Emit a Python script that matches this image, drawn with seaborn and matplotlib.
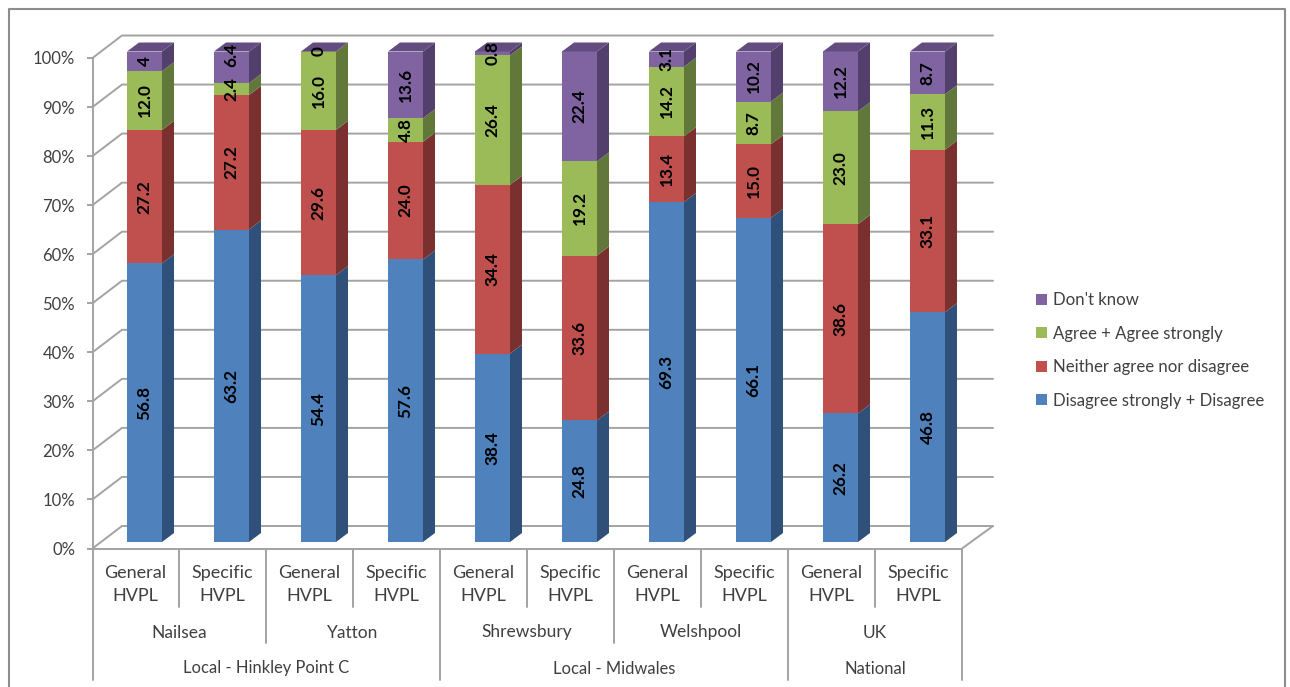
import numpy as np
import pandas as pd
import seaborn as sns
import matplotlib.pyplot as plt

# data
bar_ids = ['Nailsea G', 'Nailsea S', 'Yatton G', 'Yatton S', 'Shrewsbury G',
           'Shrewsbury S', 'Welshpool G', 'Welshpool S', 'UK G', 'UK S']
bar_labels = ['General\nHVPL', 'Specific\nHVPL'] * 5
towns = ['Nailsea', 'Yatton', 'Shrewsbury', 'Welshpool', 'UK']
regions = ['Local - Hinkley Point C', 'Local - Midwales', 'National']
region_spans = [(0, 4), (4, 8), (8, 10)]
y_ticks = [0, 10, 20, 30, 40, 50, 60, 70, 80, 90, 100]

disagree = [56.8, 63.2, 54.4, 57.6, 38.4, 24.8, 69.3, 66.1, 26.2, 46.8]
neither = [27.2, 27.2, 29.6, 24.0, 34.4, 33.6, 13.4, 15.0, 38.6, 33.1]
agree = [12.0, 2.4, 16.0, 4.8, 26.4, 19.2, 14.2, 8.7, 23.0, 11.3]
dont_know = [4, 6.4, 0, 13.6, 0.8, 22.4, 3.1, 10.2, 12.2, 8.7]

series_names = ['Disagree strongly + Disagree', 'Neither agree nor disagree',
                'Agree + Agree strongly', "Don't know"]
series_values = [disagree, neither, agree, dont_know]
face_colors = ['#4F81BD', '#C0504D', '#9BBB59', '#8064A2']
side_colors = ['#2F5079', '#7A302E', '#62773A', '#523F6B']
top_color = '#624C80'

GRID = '#A3A3A3'
TEXT = '#404040'

# picture pixels -> data units (bar 0 centred on x=0, bar foot at y=0)
PX_X = 87.0
PX_Y = 4.905
def dx(p):
    return (p - 144.5) / PX_X
def dy(p):
    return (542 - p) / PX_Y

sns.set_theme(style='white')
plt.rcParams['font.family'] = ['Lato', 'DejaVu Sans']

fig = plt.figure(figsize=(12.9, 6.87), dpi=100)
ax = fig.add_axes([0, 0, 1, 1])

df = pd.DataFrame(series_values, index=series_names, columns=bar_ids).T
share = df.div(df.sum(axis=1), axis=0) * 100

bar_w = 35 / PX_X
depth_x = 12 / PX_X
depth_y = 9 / PX_Y

bottoms = np.zeros(len(bar_ids))
for i, name in enumerate(series_names):
    heights = share[name].values
    sns.barplot(x=bar_ids, y=heights, bottom=bottoms, color=face_colors[i],
                saturation=1, width=bar_w, linewidth=0, errorbar=None,
                label=name, legend=False, zorder=3, ax=ax)
    for j in range(len(bar_ids)):
        left = j - bar_w / 2
        right = j + bar_w / 2
        lo = bottoms[j]
        hi = bottoms[j] + heights[j]
        ax.fill([right, right + depth_x, right + depth_x, right],
                [lo, lo + depth_y, hi + depth_y, hi],
                color=side_colors[i], lw=0, zorder=3)
        if i == 3:
            ax.fill([left, left + depth_x, right + depth_x, right],
                    [hi, hi + depth_y, hi + depth_y, hi],
                    color=top_color, lw=0, zorder=3)
        # value labels, the 6.4 was dragged up in the original
        y_lab = lo + heights[j] / 2
        if series_values[i][j] == 6.4:
            y_lab = dy(54.6)
        value = series_values[i][j]
        text = str(value) if value == int(value) and value in (0, 4) else f'{value:.1f}'
        ax.text(j, y_lab, text, rotation=90, ha='center', va='center',
                fontsize=12.3, fontweight='bold', color='black', zorder=5)
    bottoms = bottoms + heights

# back wall, side diagonals, floor
x_front_l, x_front_r = dx(92.5), dx(962)
x_back_l, x_back_r = dx(122), dx(993)
shift = dy(548.5)
wall = 22.5 / PX_Y
for t in y_ticks:
    ax.plot([x_front_l, x_back_l, x_back_r], [t + shift, t + shift + wall, t + shift + wall],
            color=GRID, lw=1.4, zorder=1, solid_joinstyle='miter')
ax.plot([x_back_r, x_front_r], [shift + wall, shift], color=GRID, lw=1.4, zorder=1)

# hierarchical axis separators
for k in range(11):
    xb = dx(92.5 + k * 86.95)
    if k in (0, 4, 8, 10):
        foot = 679.5
    elif k % 2 == 0:
        foot = 643
    else:
        foot = 606.5
    ax.plot([xb, xb], [shift, dy(foot)], color=GRID, lw=1.4, zorder=1)

label_x = np.arange(10) - 9 / PX_X
for k, town in enumerate(towns):
    ax.text((label_x[2 * k] + label_x[2 * k + 1]) / 2, dy(632.5), town,
            ha='center', va='center', fontsize=12.5, color=TEXT)
for (a, b), region in zip(region_spans, regions):
    ax.text((label_x[a] + label_x[b - 1]) / 2, dy(668.5), region,
            ha='center', va='center', fontsize=11.9, color=TEXT)

# outer frame, open at the bottom
ax.plot([dx(9), dx(9), dx(1285), dx(1285)], [dy(687), dy(9), dy(9), dy(687)],
        color='#8C8C8C', lw=1.5, zorder=1)

ax.set_xlim(dx(0), dx(1290))
ax.set_ylim(dy(687), dy(0))

for side in ['top', 'right']:
    ax.spines[side].set_visible(False)
ax.spines['left'].set_position(('data', x_front_l))
ax.spines['left'].set_bounds(shift, 100 + shift)
ax.spines['bottom'].set_position(('data', shift))
ax.spines['bottom'].set_bounds(x_front_l, x_front_r)
for side in ['left', 'bottom']:
    ax.spines[side].set_color(GRID)
    ax.spines[side].set_linewidth(1.4)

ax.set_yticks([t + shift for t in y_ticks], [f'{t}%' for t in y_ticks])
ax.tick_params(axis='y', left=True, length=4.5, width=1.4, color=GRID, pad=8,
               labelsize=12, labelcolor=TEXT)
ax.set_xticks(label_x, bar_labels)
ax.tick_params(axis='x', bottom=False, length=0, pad=12, labelsize=13, labelcolor=TEXT)
for lab in ax.get_xticklabels():
    lab.set_linespacing(1.55)
ax.set_xlabel('')
ax.set_ylabel('')

handles, labels = ax.get_legend_handles_labels()
keep = dict(zip(labels, handles))
ax.legend([keep[n] for n in series_names[::-1]], series_names[::-1],
          loc='center left', bbox_to_anchor=(1036 / 1290, 1 - 350.5 / 687),
          frameon=False, fontsize=12.1, labelcolor=TEXT, handlelength=0.65,
          handleheight=0.65, handletextpad=0.35, labelspacing=1.04,
          borderpad=0, borderaxespad=0)

fig.savefig('out.png', dpi=100)
